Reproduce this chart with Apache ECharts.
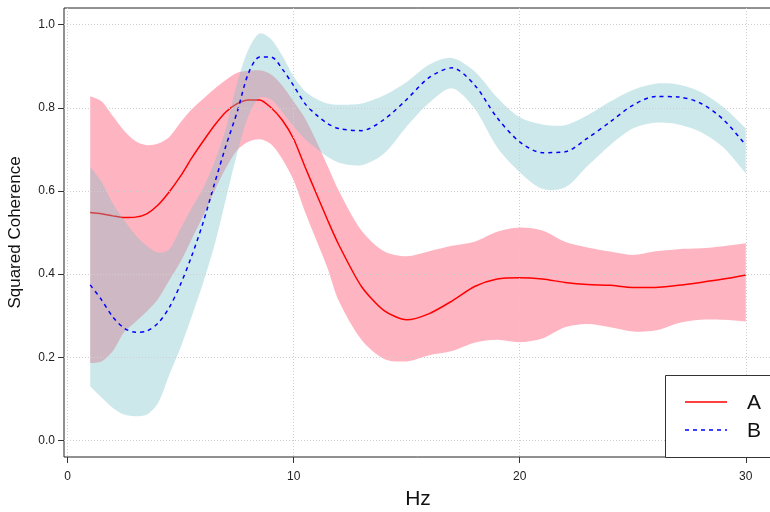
<!DOCTYPE html>
<html>
<head>
<meta charset="utf-8">
<script src="https://cdn.jsdelivr.net/npm/echarts@6/dist/echarts.min.js"></script>
<style>
  html, body { margin: 0; padding: 0; background: #fff; }
  #chart { width: 770px; height: 512px; }
</style>
</head>
<body>
<div id="chart"></div>
<script>
// Frequencies (Hz) at which coherence was estimated
const freqs = [1, 1.5, 2, 2.5, 3, 3.5, 4, 4.5, 5, 5.5, 6, 6.5, 7, 7.5, 8, 8.5, 9, 9.5, 10, 10.5, 11, 11.5, 12,
  13, 14, 15, 16, 17, 18, 19, 20, 21, 22, 23, 24, 25, 26, 27, 28, 29, 30];

// Series A: squared coherence and its confidence band
const cohA = [0.548, 0.545, 0.540, 0.536, 0.537, 0.545, 0.566, 0.598, 0.636, 0.680, 0.720, 0.758, 0.790, 0.810, 0.819, 0.819, 0.800, 0.770, 0.725, 0.658, 0.594, 0.530, 0.470,
  0.370, 0.312, 0.290, 0.305, 0.335, 0.370, 0.388, 0.391, 0.388, 0.380, 0.375, 0.373, 0.368, 0.368, 0.373, 0.380, 0.388, 0.398];
const hiA = [0.828, 0.816, 0.780, 0.745, 0.720, 0.710, 0.714, 0.730, 0.765, 0.797, 0.822, 0.846, 0.867, 0.884, 0.889, 0.890, 0.880, 0.853, 0.815, 0.775, 0.720, 0.660, 0.600,
  0.505, 0.455, 0.443, 0.455, 0.468, 0.478, 0.502, 0.512, 0.505, 0.478, 0.464, 0.454, 0.446, 0.455, 0.460, 0.462, 0.467, 0.474];
const loA = [0.186, 0.190, 0.215, 0.260, 0.285, 0.310, 0.340, 0.385, 0.430, 0.485, 0.540, 0.600, 0.655, 0.698, 0.718, 0.724, 0.712, 0.676, 0.625, 0.550, 0.482, 0.414, 0.335,
  0.242, 0.196, 0.190, 0.205, 0.215, 0.235, 0.242, 0.236, 0.245, 0.272, 0.280, 0.272, 0.262, 0.264, 0.282, 0.290, 0.290, 0.286];

// Series B: squared coherence and its confidence band
const cohB = [0.374, 0.338, 0.297, 0.270, 0.260, 0.263, 0.282, 0.320, 0.376, 0.445, 0.525, 0.618, 0.708, 0.790, 0.883, 0.922, 0.922, 0.893, 0.853, 0.810, 0.783, 0.762, 0.750,
  0.745, 0.772, 0.820, 0.873, 0.896, 0.855, 0.776, 0.718, 0.692, 0.694, 0.727, 0.766, 0.806, 0.827, 0.826, 0.811, 0.772, 0.710];
const hiB = [0.658, 0.622, 0.570, 0.530, 0.494, 0.468, 0.452, 0.460, 0.510, 0.560, 0.607, 0.670, 0.750, 0.860, 0.940, 0.979, 0.965, 0.925, 0.875, 0.840, 0.822, 0.810, 0.807,
  0.810, 0.830, 0.862, 0.904, 0.920, 0.888, 0.825, 0.777, 0.760, 0.758, 0.782, 0.815, 0.843, 0.858, 0.856, 0.838, 0.802, 0.751];
const loB = [0.130, 0.103, 0.078, 0.062, 0.058, 0.062, 0.090, 0.158, 0.224, 0.300, 0.380, 0.470, 0.580, 0.690, 0.780, 0.825, 0.820, 0.790, 0.755, 0.725, 0.702, 0.682, 0.668,
  0.662, 0.690, 0.755, 0.812, 0.847, 0.798, 0.705, 0.645, 0.605, 0.608, 0.660, 0.710, 0.750, 0.764, 0.760, 0.742, 0.705, 0.642];

// Axis ticks and labels
const xGrid = 5;
const xLabels = [0, 10, 20, 30];
const yGrid = 0.1;
const yLabels = [0, 0.2, 0.4, 0.6, 0.8, 1.0];

const pairs = (ys) => freqs.map((f, i) => [f, ys[i]]);
const bandData = (hi, lo) => freqs.map((f, i) => [f, hi[i], lo[i]]);

const FONT = 'Liberation Sans, Arial, sans-serif';
const gridLine = { show: true, lineStyle: { color: '#cfcfcf', type: [1, 2], width: 1 } };

// plot region in pixels (x range -0.16..31.16, y range -0.04..1.04)
const P = { left: 64, top: 8, width: 708, height: 449 };
const xScale = P.width / (31.16 + 0.16);
const yScale = P.height / 1.08;

// closed band outline: upper edge left->right, lower edge right->left
function renderBand(color) {
  return function (params, api) {
    if (params.dataIndexInside !== 0) return null;
    const n = params.dataInsideLength;
    const up = [], dn = [];
    for (let j = 0; j < n; j++) {
      const x = api.value(0, j);
      up.push(api.coord([x, api.value(1, j)]));
      dn.push(api.coord([x, api.value(2, j)]));
    }
    dn.reverse();
    // doubled end points keep the band ends straight when smoothing
    const pts = [up[0], ...up, up[n - 1], dn[0], ...dn, dn[n - 1]];
    return {
      type: 'polygon',
      shape: { points: pts, smooth: 0.3 },
      style: { fill: color, stroke: null },
      silent: true
    };
  };
}

const chart = echarts.init(document.getElementById('chart'), null, { renderer: 'canvas' });

const gridBase = { outerBoundsMode: 'none', containLabel: false };

chart.setOption({
  animation: false,
  backgroundColor: '#ffffff',
  grid: [
    Object.assign({ left: P.left, top: P.top, width: P.width, height: P.height, show: true,
      borderColor: '#222', borderWidth: 1, backgroundColor: 'transparent' }, gridBase),
    // vertical guide lines & frequency ticks (0..30)
    Object.assign({ left: P.left + 0.16 * xScale, top: P.top, width: 30 * xScale, height: P.height }, gridBase),
    // horizontal guide lines & coherence ticks (0..1)
    Object.assign({ left: P.left, top: P.top + 0.04 * yScale, width: P.width, height: yScale }, gridBase)
  ],
  xAxis: [
    { gridIndex: 0, type: 'value', min: -0.16, max: 31.16,
      axisLine: { show: false }, axisTick: { show: false }, axisLabel: { show: false }, splitLine: { show: false },
      name: 'Hz', nameLocation: 'middle', nameGap: 32,
      nameTextStyle: { fontFamily: FONT, fontSize: 21, color: '#111' } },
    { gridIndex: 1, type: 'value', min: 0, max: 30, interval: xGrid, z: 5,
      axisLine: { show: false },
      axisTick: { show: true, customValues: xLabels, length: 6, lineStyle: { color: '#333' } },
      axisLabel: { show: true, customValues: xLabels, margin: 14,
        fontFamily: 'Liberation Sans Narrow, ' + FONT, fontSize: 12, color: '#222' },
      splitLine: gridLine },
    { gridIndex: 2, type: 'value', min: 0, max: 1, show: false }
  ],
  yAxis: [
    { gridIndex: 0, type: 'value', min: -0.04, max: 1.04,
      axisLine: { show: false }, axisTick: { show: false }, axisLabel: { show: false }, splitLine: { show: false },
      name: 'Squared Coherence', nameLocation: 'middle', nameGap: 40,
      nameTextStyle: { fontFamily: FONT, fontSize: 17, color: '#111' } },
    { gridIndex: 1, type: 'value', min: 0, max: 1, show: false },
    { gridIndex: 2, type: 'value', min: 0, max: 1, interval: yGrid, z: 5,
      axisLine: { show: false },
      axisTick: { show: true, customValues: yLabels, length: 6, lineStyle: { color: '#333' } },
      axisLabel: { show: true, customValues: yLabels, margin: 9, fontFamily: FONT, fontSize: 12, color: '#222',
        formatter: (v) => v.toFixed(1) },
      splitLine: gridLine }
  ],
  series: [
    { name: 'A band', type: 'custom', data: bandData(hiA, loA), renderItem: renderBand('#ffb5c1'),
      encode: { x: 0, y: [1, 2] }, clip: true, z: 1, silent: true },
    { name: 'A', type: 'line', data: pairs(cohA), smooth: 0.25, symbol: 'none',
      lineStyle: { color: '#ff0000', width: 1.5 }, itemStyle: { color: '#ff0000' }, z: 2 },
    { name: 'B band', type: 'custom', data: bandData(hiB, loB), renderItem: renderBand('rgba(116,191,199,0.36)'),
      encode: { x: 0, y: [1, 2] }, clip: true, z: 3, silent: true },
    { name: 'B', type: 'line', data: pairs(cohB), smooth: 0.3, symbol: 'none',
      lineStyle: { color: '#0000ff', width: 1.5, type: [4, 4] }, itemStyle: { color: '#0000ff' }, z: 4 }
  ],
  // legend box in the lower right corner
  graphic: [
    { type: 'rect', z: 10, shape: { x: 665.5, y: 375.5, width: 200, height: 82 },
      style: { fill: '#fff', stroke: '#333', lineWidth: 1 } },
    { type: 'line', z: 11, shape: { x1: 685, y1: 402, x2: 727, y2: 402 },
      style: { stroke: '#ff0000', lineWidth: 1.5 } },
    { type: 'line', z: 11, shape: { x1: 685, y1: 430, x2: 727, y2: 430 },
      style: { stroke: '#0000ff', lineWidth: 1.5, lineDash: [4, 4] } },
    { type: 'text', z: 11, style: { x: 747, y: 403, text: 'A', fontFamily: FONT, fontSize: 21,
      fill: '#111', textVerticalAlign: 'middle', verticalAlign: 'middle' } },
    { type: 'text', z: 11, style: { x: 747, y: 431, text: 'B', fontFamily: FONT, fontSize: 21,
      fill: '#111', textVerticalAlign: 'middle', verticalAlign: 'middle' } }
  ]
});
</script>
</body>
</html>
